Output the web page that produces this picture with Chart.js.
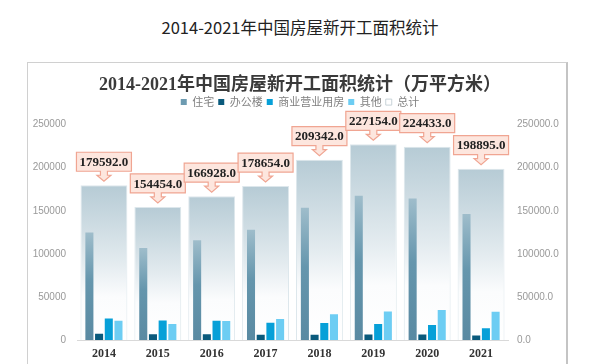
<!DOCTYPE html>
<html><head><meta charset="utf-8">
<script src="https://cdn.jsdelivr.net/npm/chart.js@4/dist/chart.umd.min.js"></script>
<style>
html,body{margin:0;padding:0;background:#fff;}
#wrap{position:relative;width:600px;height:364px;overflow:hidden;}
#outerTitle{position:absolute;left:0;top:16px;width:600px;text-align:center;font:16.5px "Noto Sans CJK SC","Noto Sans",sans-serif;color:#222;line-height:22px;}
#frame{position:absolute;left:27px;top:62px;width:538px;height:330px;border:1px solid #d0d0d0;border-right:2px solid #c4c4c4;}
canvas{position:absolute;left:0;top:0;}
</style></head>
<body><div id="wrap"><div id="outerTitle">2014-2021年中国房屋新开工面积统计</div><div id="frame"></div><canvas id="c" width="600" height="364" style="width:600px;height:364px"></canvas></div>
<script>
const years = ['2014','2015','2016','2017','2018','2019','2020','2021'];
const seriesNames = ['住宅','办公楼','商业营业用房','其他','总计'];
const residential = [124877, 106651, 115911, 128098, 153553, 167463, 164329, 146379];
const office = [7349, 6569, 6607, 6140, 6048, 6400, 6300, 5200];
const commercial = [25048, 22530, 22317, 20126, 19700, 18600, 17400, 13600];
const other = [22318, 18704, 22093, 24290, 29800, 33000, 34800, 32800];
const totals = [179592.0, 154454.0, 166928.0, 178654.0, 209342.0, 227154.0, 224433.0, 198895.0];
const axisTicks = [0, 50000, 100000, 150000, 200000, 250000];
const legendColors = ['#6d9bb1','#0a5a7c','#07a0d8','#6dcdf3','#ffffff'];

function barGradient(stops, fallback){
  return function(ctx){
    if(ctx.type !== 'data') return fallback;
    const chart = ctx.chart, ys = chart.scales.y;
    if(!ys) return fallback;
    const y0 = ys.getPixelForValue(ctx.raw), y1 = ys.getPixelForValue(0);
    if(!isFinite(y0) || !isFinite(y1) || y1 - y0 < 1) return fallback;
    const g = chart.ctx.createLinearGradient(0, y0, 0, y1);
    stops.forEach(s => g.addColorStop(s[0], s[1]));
    return g;
  };
}

const calloutPlugin = {
  id: 'callouts',
  afterDatasetsDraw(chart){
    const meta = chart.getDatasetMeta(4);
    const c = chart.ctx;
    c.save();
    meta.data.forEach((el, i) => {
      const x = el.x, top = el.y;
      const w = 55, h = 19;
      const tip = top - 4, headTop = top - 10, boxBot = top - 14, boxTop = boxBot - h;
      c.beginPath();
      c.moveTo(x - w/2, boxTop); c.lineTo(x + w/2, boxTop); c.lineTo(x + w/2, boxBot);
      c.lineTo(x + 3.5, boxBot); c.lineTo(x + 3.5, headTop); c.lineTo(x + 7, headTop);
      c.lineTo(x, tip); c.lineTo(x - 7, headTop); c.lineTo(x - 3.5, headTop);
      c.lineTo(x - 3.5, boxBot); c.lineTo(x - w/2, boxBot); c.closePath();
      c.fillStyle = '#fde6de'; c.fill();
      c.strokeStyle = '#f0a592'; c.lineWidth = 1.2; c.stroke();
      c.fillStyle = '#222';
      c.font = 'bold 13px "Liberation Serif", serif';
      c.textAlign = 'center'; c.textBaseline = 'middle';
      c.fillText(totals[i].toFixed(1), x, boxTop + h/2 + 1);
    });
    c.restore();
  }
};

const legendGapPlugin = {
  id: 'legendGap',
  afterInit(chart){
    const lg = chart.legend;
    if(!lg) return;
    const f = lg.fit.bind(lg);
    lg.fit = function(){ f(); this.height += 7; };
  }
};

const sub = {categoryPercentage: 0.72, barPercentage: 0.83, borderWidth: 0, yAxisID: 'y'};

new Chart(document.getElementById('c'), {
  type: 'bar',
  data: {
    labels: years,
    datasets: [
      Object.assign({label: seriesNames[0], data: residential,
        backgroundColor: barGradient([[0,'#9fbdcb'],[0.45,'#6596ad'],[1,'#5a8aa2']], '#6d9bb1')}, sub),
      Object.assign({label: seriesNames[1], data: office, backgroundColor: '#0a5a7c'}, sub),
      Object.assign({label: seriesNames[2], data: commercial, backgroundColor: '#07a0d8'}, sub),
      Object.assign({label: seriesNames[3], data: other, backgroundColor: '#6dcdf3'}, sub),
      {label: seriesNames[4], data: totals, grouped: false, barPercentage: 0.87, categoryPercentage: 1,
        backgroundColor: barGradient([[0,'#b6cbd5'],[0.5,'#e3ebef'],[0.72,'#fbfcfd'],[1,'#ffffff']], '#ffffff'),
        borderColor: '#dde7ec', borderWidth: 1, yAxisID: 'y'}
    ]
  },
  options: {
    responsive: false,
    animation: false,
    layout: {padding: {top: 64, left: 0, right: 0, bottom: 0}},
    plugins: {
      tooltip: {enabled: false},
      title: {display: true, text: '2014-2021年中国房屋新开工面积统计（万平方米）',
        font: {family: '"Liberation Serif","Noto Sans CJK SC",serif', size: 18, weight: 'bold'},
        color: '#3a3a3a', padding: {top: 11, bottom: -4}},
      legend: {display: true, position: 'top',
        labels: {boxWidth: 6, boxHeight: 6, padding: 4, color: '#808080',
          font: {family: '"Noto Sans CJK SC","Noto Sans",sans-serif', size: 11},
          generateLabels(chart){
            return seriesNames.map((n, i) => ({text: n, fillStyle: legendColors[i],
              strokeStyle: i === 4 ? '#c8d3d8' : legendColors[i], lineWidth: i === 4 ? 1 : 0,
              hidden: false, datasetIndex: i, fontColor: '#808080'}));
          }}}
    },
    scales: {
      x: {type: 'category', offset: true,
        grid: {display: false, drawTicks: false},
        border: {display: true, color: '#d9d9d9'},
        ticks: {color: '#333', padding: 7, font: {family: '"Liberation Serif",serif', weight: 'bold', size: 12}},
        afterFit(s){ s.height = 24; }},
      y: {position: 'left', min: 0, max: 250000,
        grid: {display: false, drawTicks: false}, border: {display: false},
        afterBuildTicks(s){ s.ticks = axisTicks.map(v => ({value: v})); },
        ticks: {color: '#999', padding: 11, font: {family: '"Liberation Sans",sans-serif', size: 10},
          callback: v => String(v)},
        afterFit(s){ s.width = 77; }},
      y2: {position: 'right', min: 0, max: 250000,
        grid: {display: false, drawTicks: false}, border: {display: false},
        afterBuildTicks(s){ s.ticks = axisTicks.map(v => ({value: v})); },
        ticks: {color: '#999', padding: 9, font: {family: '"Liberation Sans",sans-serif', size: 10},
          callback: v => Number(v).toFixed(1)},
        afterFit(s){ s.width = 92; }}
    }
  },
  plugins: [legendGapPlugin, calloutPlugin]
});
</script>
</body></html>
